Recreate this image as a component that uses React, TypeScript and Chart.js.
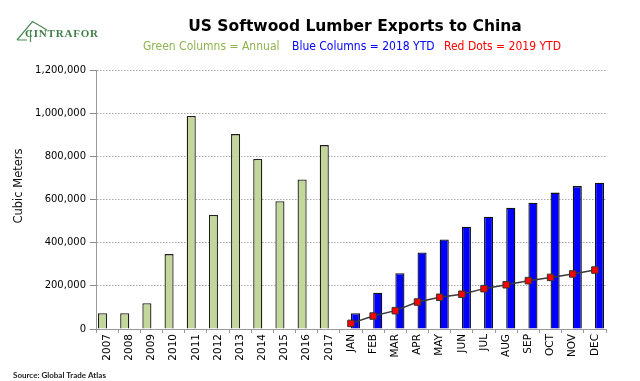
import React, { useEffect, useRef } from "react";
import { Chart, registerables } from "chart.js";

Chart.register(...registerables);

const yearCategories = ["2007", "2008", "2009", "2010", "2011", "2012", "2013", "2014", "2015", "2016", "2017"];
const monthCategories = ["JAN", "FEB", "MAR", "APR", "MAY", "JUN", "JUL", "AUG", "SEP", "OCT", "NOV", "DEC"];
const annualValues = [73000, 73000, 119000, 347000, 987000, 528000, 903000, 788000, 592000, 693000, 852000];
const ytd2018Values = [73000, 168000, 258000, 355000, 415000, 474000, 520000, 562000, 585000, 632000, 662000, 678000];
const ytd2019Values = [26000, 60000, 85000, 125000, 147000, 161000, 187000, 205000, 224000, 239000, 255000, 273000];
const yMin = 0;
const yMax = 1200000;
const yStep = 200000;

const titleText = "US Softwood Lumber Exports to China";
const subGreen = "Green Columns = Annual";
const subBlue = "Blue Columns = 2018 YTD";
const subRed = "Red Dots = 2019 YTD";
const yTitle = "Cubic Meters";
const sourceText = "Source: Global Trade Atlas";
const logoText = "CINTRAFOR";

const headerPlugin = {
  id: "header",
  afterDraw(chart: any) {
    const ctx = chart.ctx as CanvasRenderingContext2D;
    ctx.save();
    // Title
    ctx.fillStyle = "#000";
    ctx.font = 'bold 15.5px "DejaVu Sans"';
    ctx.textAlign = "center";
    ctx.textBaseline = "alphabetic";
    ctx.fillText(titleText, 355, 31);
    // Subtitle
    ctx.font = '12px "DejaVu Sans Condensed", "DejaVu Sans"';
    ctx.textAlign = "left";
    ctx.fillStyle = "#8EB44C";
    ctx.fillText(subGreen, 143, 50);
    ctx.fillStyle = "#0000FF";
    ctx.fillText(subBlue, 292, 50);
    ctx.fillStyle = "#FF0000";
    ctx.fillText(subRed, 444, 50);
    // Y title
    ctx.save();
    ctx.translate(19, 186);
    ctx.rotate(-Math.PI / 2);
    ctx.fillStyle = "#111";
    ctx.font = '11.5px "DejaVu Sans"';
    ctx.textAlign = "center";
    ctx.textBaseline = "middle";
    ctx.fillText(yTitle, 0, 0);
    ctx.restore();
    // Source
    ctx.fillStyle = "#222";
    ctx.font = 'bold 8px Lato';
    ctx.textAlign = "left";
    ctx.fillText(sourceText, 13, 378);
    // Logo
    ctx.strokeStyle = "#4E8A55";
    ctx.lineWidth = 1.2;
    ctx.beginPath();
    ctx.moveTo(17, 40);
    ctx.lineTo(32.5, 21.5);
    ctx.lineTo(47, 30);
    ctx.moveTo(17, 40);
    ctx.lineTo(27, 40);
    ctx.moveTo(30.5, 30);
    ctx.lineTo(30.5, 42);
    ctx.stroke();
    ctx.fillStyle = "#3F7E48";
    ctx.font = 'bold 11px "Liberation Serif"';
    (ctx as any).letterSpacing = "0.8px";
    ctx.fillText(logoText, 25, 36.5);
    ctx.restore();
  },
};

export default function App() {
  const canvasRef = useRef<HTMLCanvasElement | null>(null);

  useEffect(() => {
    if (!canvasRef.current) return;
    const labels = [...yearCategories, ...monthCategories];
    const nYears = yearCategories.length;
    const nMonths = monthCategories.length;
    const greenData = [...annualValues, ...Array(nMonths).fill(null)];
    const blueData = [...Array(nYears).fill(null), ...ytd2018Values];
    const redData = [...Array(nYears).fill(null), ...ytd2019Values];

    const chart = new Chart(canvasRef.current, {
      type: "bar",
      data: {
        labels,
        datasets: [
          {
            type: "line",
            label: "2019 YTD",
            data: redData,
            order: 0,
            borderColor: "#3a3a3a",
            borderWidth: 1.5,
            backgroundColor: "#FF0000",
            pointStyle: "rect",
            pointRadius: 4.6,
            pointBackgroundColor: "#FF0000",
            pointBorderColor: "#333",
            pointBorderWidth: 1,
            tension: 0,
          } as any,
          {
            type: "bar",
            label: "Annual",
            data: greenData,
            order: 1,
            backgroundColor: "#C4D79B",
            borderColor: "#1f1f1f",
            borderWidth: 1.3,
            categoryPercentage: 0.82,
            barPercentage: 1,
          },
          {
            type: "bar",
            label: "2018 YTD",
            data: blueData,
            order: 1,
            backgroundColor: "#0000FF",
            borderColor: "#111",
            borderWidth: 1.3,
            categoryPercentage: 0.82,
            barPercentage: 1,
          },
        ],
      },
      options: {
        responsive: false,
        animation: false,
        layout: { padding: { top: 70, right: 34, left: 0, bottom: 0 } },
        plugins: {
          legend: { display: false },
          title: { display: false },
          tooltip: { enabled: false },
        },
        scales: {
          x: {
            offset: true,
            afterFit: (scale: any) => {
              scale.height = 52;
            },
            grid: {
              display: true,
              drawOnChartArea: false,
              drawTicks: true,
              tickLength: 4,
              offset: true,
              color: "#999",
            },
            border: { display: true, color: "#999", width: 1 },
            ticks: {
              autoSkip: false,
              maxRotation: 90,
              minRotation: 90,
              padding: 1,
              color: "#000",
              font: { family: '"DejaVu Sans"', size: 10.5 },
            },
          },
          y: {
            min: yMin,
            max: yMax,
            afterFit: (scale: any) => {
              scale.width = 96;
            },
            grid: {
              display: true,
              drawOnChartArea: true,
              drawTicks: true,
              tickLength: 6,
              color: (c: any) => (c.tick && c.tick.value === 0 ? "rgba(0,0,0,0)" : "#aaa"),
              tickColor: "#888",
            },
            border: { display: true, color: "#999", width: 1, dash: [1.5, 1.5] },
            ticks: {
              stepSize: yStep,
              padding: 4,
              color: "#000",
              font: { family: '"DejaVu Sans"', size: 10 },
              callback: (v: any) => Number(v).toLocaleString("en-US"),
            },
          },
        },
      },
      plugins: [headerPlugin],
    });
    return () => chart.destroy();
  }, []);

  return (
    <div style={{ position: "absolute", left: 0, top: 0, width: 640, height: 381, background: "#fff" }}>
      <canvas ref={canvasRef} width={640} height={381} style={{ display: "block" }} />
    </div>
  );
}
